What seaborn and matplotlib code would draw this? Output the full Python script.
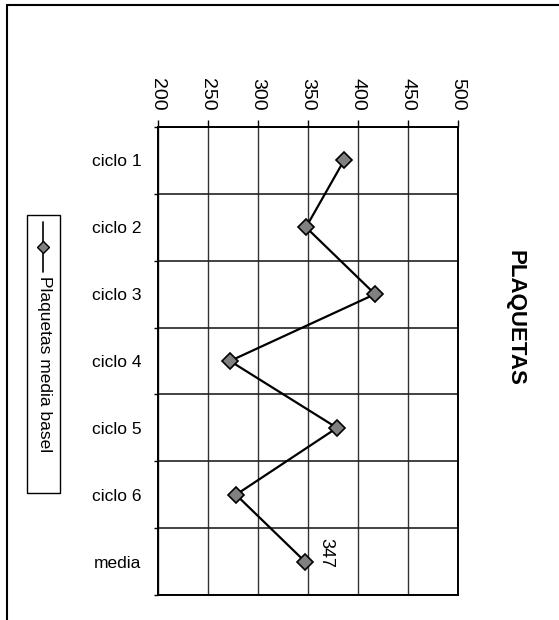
import numpy as np
import matplotlib
matplotlib.use("Agg")
import matplotlib.pyplot as plt
from matplotlib.lines import Line2D
from matplotlib.patches import Rectangle
import seaborn as sns

# Datos
categorias = ['ciclo 1', 'ciclo 2', 'ciclo 3', 'ciclo 4', 'ciclo 5', 'ciclo 6', 'media']
plaquetas = [386, 348, 417, 272, 379, 278, 347]
ticks_x = [200, 250, 300, 350, 400, 450, 500]
etiqueta_media = '347'

sns.set_theme(style='white')
plt.rcParams['font.family'] = ['Liberation Sans', 'DejaVu Sans']
plt.rcParams['text.color'] = 'black'
plt.rcParams['xtick.labelcolor'] = 'black'
plt.rcParams['ytick.labelcolor'] = 'black'

W, H = 559, 620
fig = plt.figure(figsize=(W / 100, H / 100), dpi=100)
ax = fig.add_axes([158 / W, 1 - 595 / H, 300 / W, 468 / H])

# Serie principal
sns.pointplot(x=plaquetas, y=categorias, orient='h', color='black', markers='D',
              linestyles='-', errorbar=None, ax=ax, markersize=8,
              markerfacecolor='#808080', markeredgecolor='black',
              markeredgewidth=1.2, linewidth=1.6)

ax.set_xlim(200, 500)
ax.set_ylim(len(categorias) - 0.5, -0.5)
ax.set_xticks(ticks_x)
ax.set_xticklabels([str(t) for t in ticks_x])
ax.xaxis.tick_top()
ax.tick_params(axis='x', top=True, bottom=False, direction='out', length=5,
               width=1, color='black', labelcolor='black', pad=7, labelsize=14,
               labelrotation=-90)
for lbl in ax.get_xticklabels():
    lbl.set_ha('center')
    lbl.set_va('bottom')

# Lineas de division entre categorias
ax.set_yticks(np.arange(-0.5, len(categorias), 1), minor=True)
ax.tick_params(axis='y', which='major', left=False, length=0, pad=12, labelsize=12.5,
               labelcolor='black')
ax.tick_params(axis='y', which='minor', left=True, length=3, width=1, color='black')
ax.grid(True, axis='y', which='minor', color='#222222', linewidth=1.2)
ax.grid(True, axis='x', which='major', color='#333333', linewidth=1.0)
ax.grid(False, axis='y', which='major')
ax.set_axisbelow(True)
for s in ax.spines.values():
    s.set_visible(True)
    s.set_color('black')
    s.set_linewidth(1.4)
ax.set_xlabel('')
ax.set_ylabel('')

# Etiqueta del valor medio
ax.annotate(etiqueta_media, xy=(plaquetas[-1], len(categorias) - 1),
            xytext=(15, 6), textcoords='offset points', rotation=-90,
            ha='center', va='center', fontsize=13, color='black')

# Titulo
fig.text(515 / W, 1 - 318 / H, 'PLAQUETAS', rotation=-90, ha='center', va='center',
         fontsize=16, fontweight='bold', color='black')

# Leyenda girada
fig.patches.append(Rectangle((27 / W, 1 - 493 / H), 33 / W, 278 / H, transform=fig.transFigure,
                             facecolor='white', edgecolor='black', linewidth=1.0))
fig.lines.append(Line2D([43 / W, 43 / W], [1 - 222 / H, 1 - 272 / H], transform=fig.transFigure,
                        color='black', linewidth=1.2))
fig.lines.append(Line2D([43 / W], [1 - 247 / H], transform=fig.transFigure, marker='D',
                        markersize=6, markerfacecolor='#808080', markeredgecolor='black',
                        linestyle='none'))
fig.text(44 / W, 1 - 364 / H, 'Plaquetas media basel', rotation=-90, ha='center',
         va='center', fontsize=12.5, color='black')

# Marco de la pagina
fig.lines.append(Line2D([7 / W, 1], [1 - 5 / H, 1 - 5 / H], transform=fig.transFigure,
                        color='black', linewidth=1.5))
fig.lines.append(Line2D([7 / W, 7 / W], [0, 1 - 5 / H], transform=fig.transFigure,
                        color='black', linewidth=1.5))

fig.savefig('out.png', dpi=100)
